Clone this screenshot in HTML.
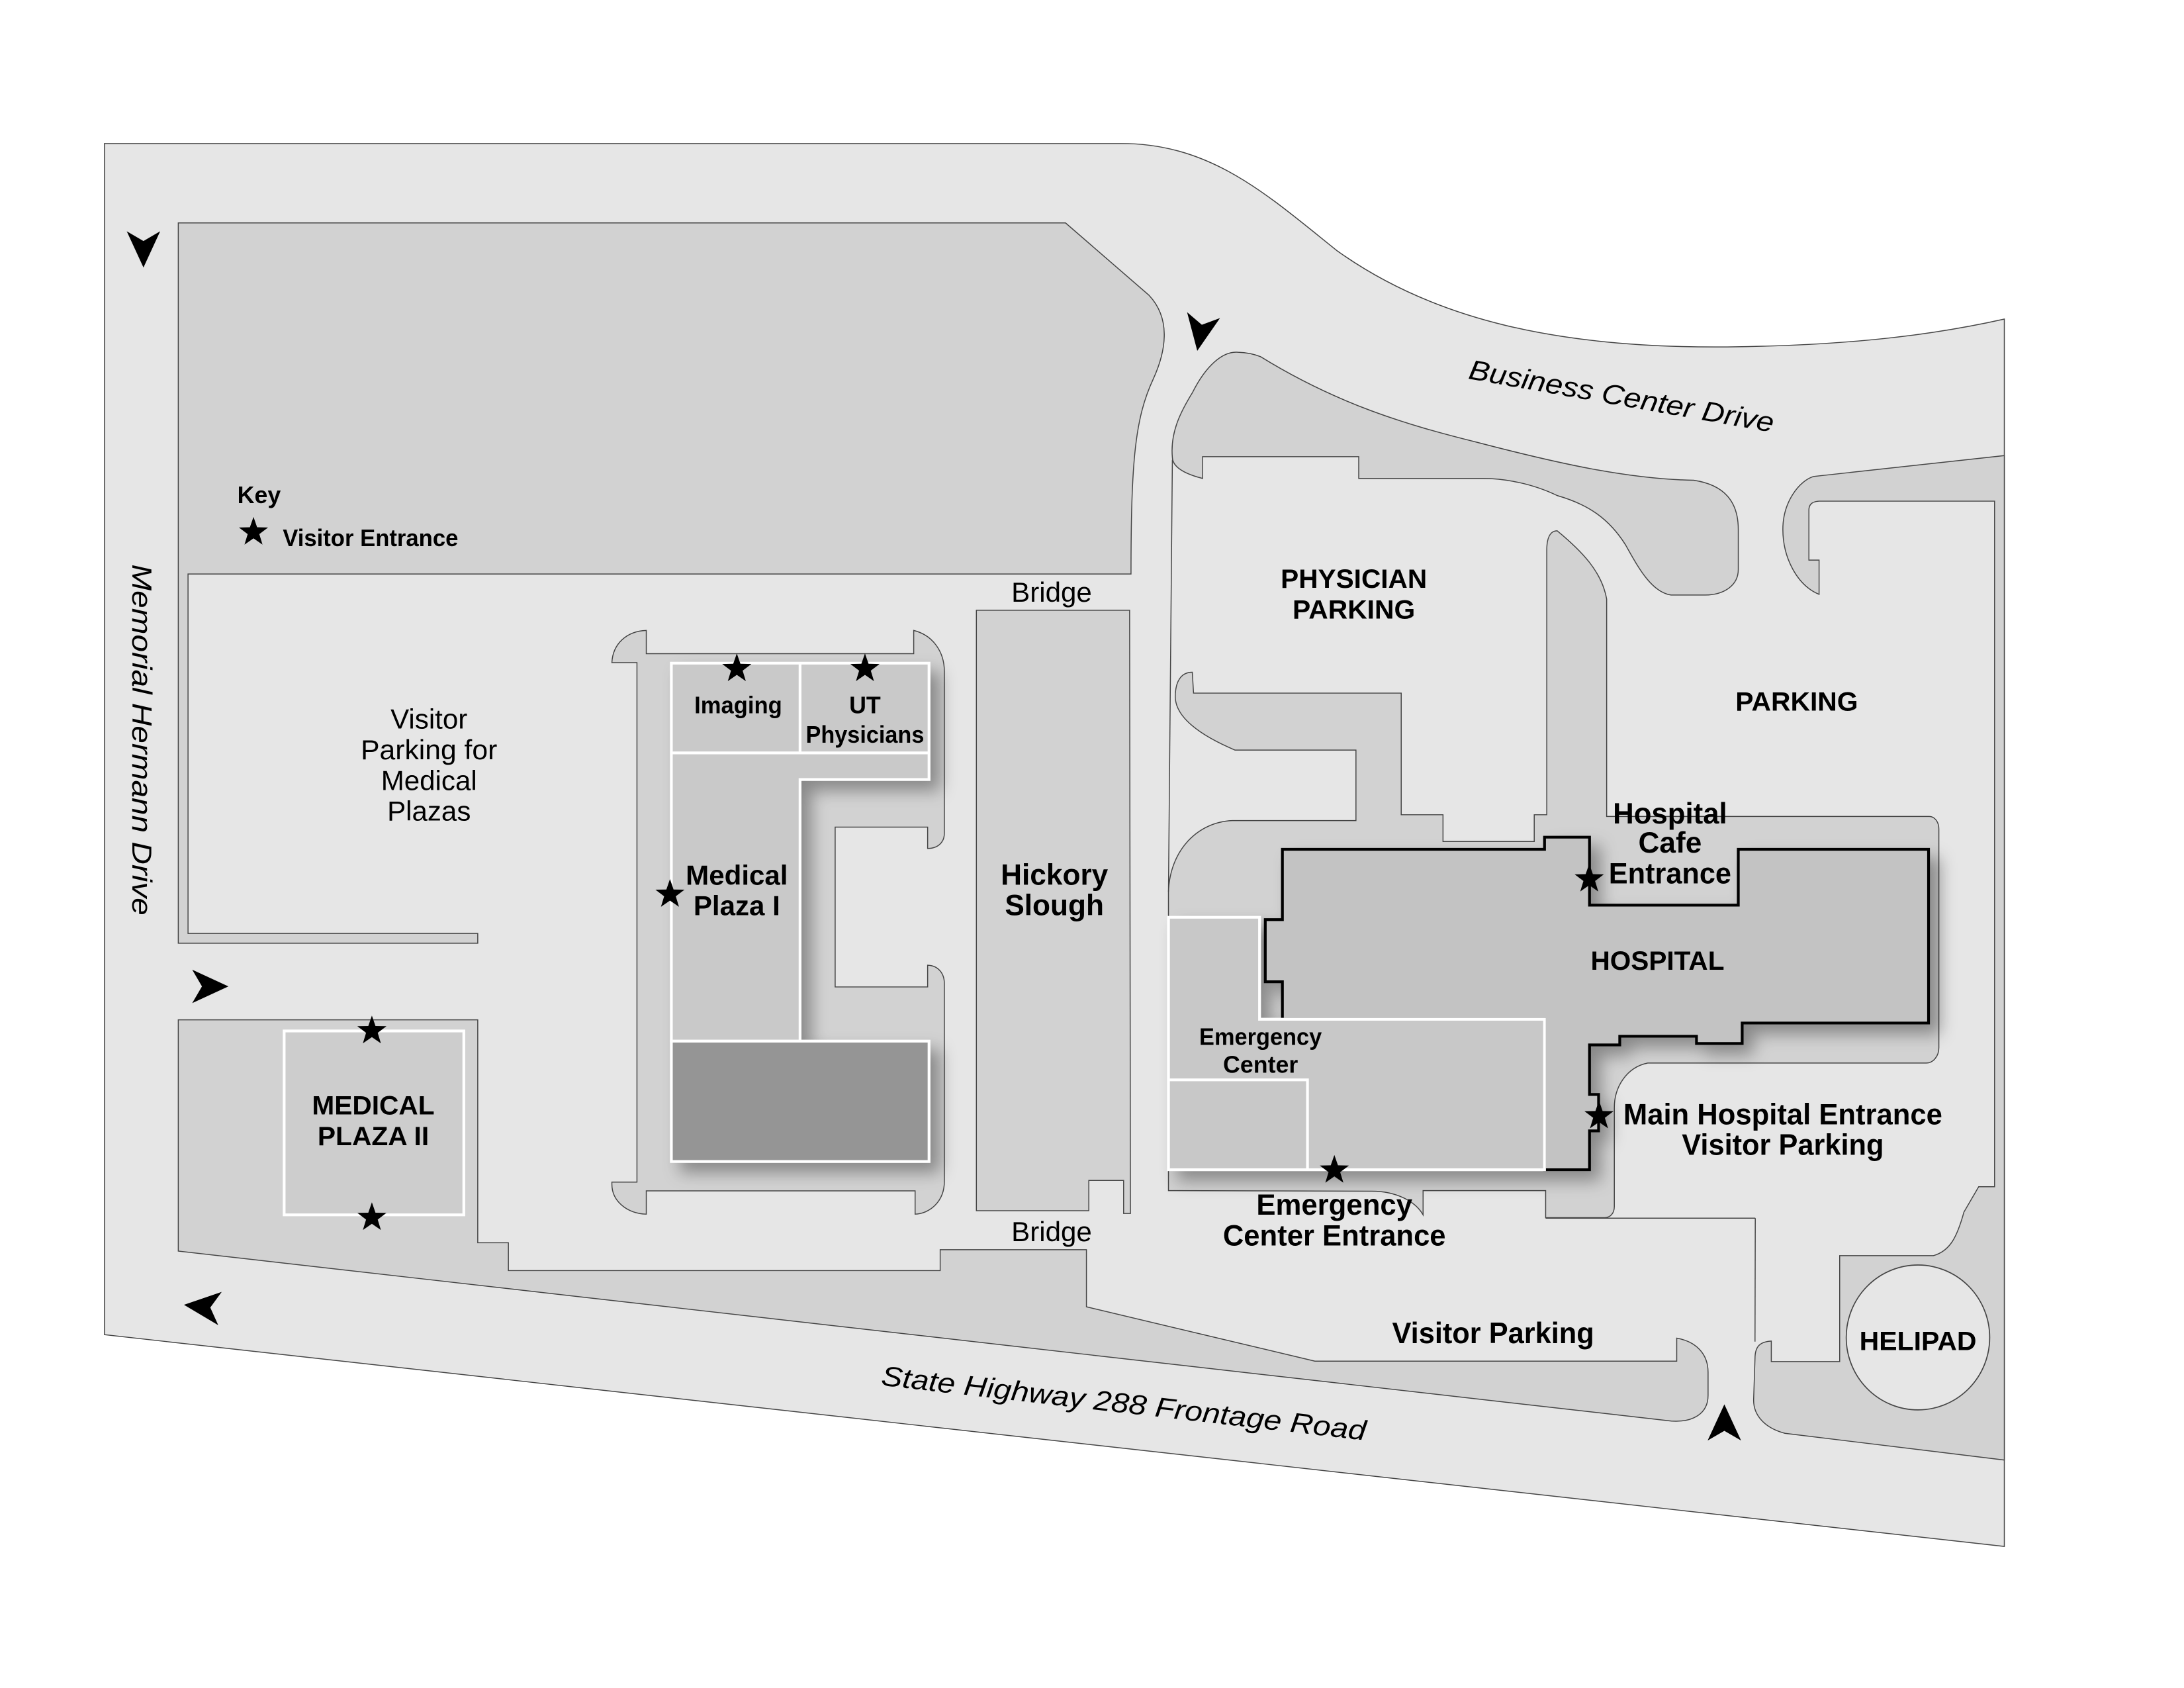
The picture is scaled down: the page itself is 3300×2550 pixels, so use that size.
<!DOCTYPE html>
<html><head><meta charset="utf-8"><style>
html,body{margin:0;padding:0;background:#fff;}
svg{display:block;}
text{font-family:"Liberation Sans",sans-serif;fill:#000;}
.b{font-weight:bold;}
</style></head><body>
<svg width="3300" height="2550" viewBox="0 0 1568 1211.6" xmlns="http://www.w3.org/2000/svg">
<defs>
<polygon id="st" points="0,-11 2.586,-3.56 10.46,-3.4 4.18,1.36 6.47,8.9 0,4.4 -6.47,8.9 -4.18,1.36 -10.46,-3.4 -2.586,-3.56" fill="#000"/>
<path id="ar" d="M14,0 L-12,-12 L-5,0 L-12,12 Z" fill="#000"/>
<filter id="sh" x="-10%" y="-10%" width="130%" height="130%"><feDropShadow dx="7" dy="7" stdDeviation="6" flood-color="#000" flood-opacity="0.35"/></filter>
</defs>
<rect width="1568" height="1212" fill="#fff"/>
<!-- outer roads -->
<path d="M75,103 L805,103 C870,103 910,140 960,180 C1030,230 1120,250 1240,249 C1330,248 1390,240 1439,229 L1439,1110 L75,958 Z" fill="#e6e6e6" stroke="#444" stroke-width="0.7"/>
<!-- top-left lot -->
<path d="M128,160 L765,160 L825,212 C840,228 838,250 828,272 C815,300 812,330 812,412 L135,412 L135,670 L343,670 L343,677 L128,677 Z" fill="#d2d2d2" stroke="#444" stroke-width="0.7"/>
<!-- bottom band -->
<path d="M128,732 L343,732 L343,892 L365,892 L365,912 L675,912 L675,897 L780,897 L780,938 L944,977 L1203.8,977 L1203.8,960.5 C1218,963 1226.3,972 1226.3,985 L1226.3,1001.6 C1226.3,1015 1215,1021 1200,1020 L128,898 Z" fill="#d2d2d2" stroke="#444" stroke-width="0.7"/>
<!-- MP1 lot -->
<path d="M464,452.5 L464,469.2 L656,469.2 L656,452.5 C670,456 678,468 678,482 L678,598 C678,605 673,609 666,609 L666,593.7 L599.6,593.7 L599.6,708.4 L666,708.4 L666,692.8 C673,693 678,698 678,706 L678,848 C678,862 668,871 657,871.5 L657,854.8 L464,854.8 L464,871.5 C450,871 439.3,862 439.3,850 L439.3,848.5 L457.3,848.5 L457.3,475.6 L439.3,475.6 C440,462 450,453 464,452.5 Z" fill="#d2d2d2" stroke="#444" stroke-width="0.7"/>
<!-- Hickory -->
<path d="M701,438 L811,438 L811.6,871 L806.7,871 L806.7,847.3 L781.7,847.3 L781.7,869 L701,869 Z" fill="#d2d2d2" stroke="#444" stroke-width="0.7"/>
<!-- right island top -->
<path d="M841.7,328.4 C840,310 848,295 856,282 C866,262 878,252 888.8,252.8 C895,253 900,254 905,256 C960,290 1010,305 1060.6,317.5 C1120,333 1170,344 1216,344.7 C1238,348 1248,360 1248,380 L1248,408.8 C1248,420 1238,427 1224.2,427.1 L1199.7,427.1 C1185,425 1175,405 1167,391 C1155,372 1140,362 1118,355.7 C1100,347 1080,343.4 1064.7,343.4 L975.5,343.4 L975.5,327.8 L863.4,327.8 L863.4,343.4 C850,340 842,335 841.7,328.4 Z" fill="#d2d2d2" stroke="#444" stroke-width="0.7"/>
<!-- right dark region -->
<path d="M1302,342 L1439,327 L1439,1048 L1281.5,1028.8 C1267,1025 1259,1016 1259,1005 L1260,975 C1260,966 1264,963 1271.7,962.6 L1271.7,977.3 L1320.8,977.3 L1320.8,901.3 L1388,901.3 C1400,898 1405,888 1410,870 L1420.6,851.8 L1432,851.8 L1432,359.7 L1306,359.7 C1300,360 1298.7,363 1298.7,366 L1298.7,402 L1306,402 L1306,426.6 C1290,420 1280,400 1280,380 C1280,360 1292,345 1302,342 Z" fill="#d2d2d2" stroke="#444" stroke-width="0.7"/>
<!-- hospital island -->
<path d="M856,482.5 L856.9,497.5 L1006,497.5 L1006,584.8 L1036,584.8 L1036,604 L1101.5,604 L1101.5,584.8 L1110.5,584.8 L1110.5,395 C1110.5,386 1113,381 1118,381 C1135,395 1150,410 1153.5,430 L1153.5,586 L1385,586 C1389,586 1392,590 1392,595 L1392,752 C1392,758 1388,763 1383,763 L1183,763 C1168,766 1159,780 1159,795 L1159,866 C1159,871 1156,874 1152,874 L1109.7,874 L1109.7,854.6 L1021.7,854.6 L1021.7,872 C1016,862 1002,855 985,855 L838.9,854.6 L838.9,640 C840,610 860,590 884.7,589 L973.5,589 L973.5,538.4 L886.7,538.4 C862,528 843.8,515 843.8,500 C843.8,489 848,482.5 856,482.5 Z" fill="#d2d2d2" stroke="#444" stroke-width="0.7"/>
<line x1="841.7" y1="330" x2="838.9" y2="640" stroke="#444" stroke-width="0.7"/>
<line x1="1260.2" y1="874.4" x2="1260" y2="963" stroke="#444" stroke-width="0.7"/>
<polyline points="1109.7,874.4 1260.2,874.4" fill="none" stroke="#444" stroke-width="0.7"/>
<!-- helipad -->
<ellipse cx="1377" cy="960" rx="51.5" ry="52" fill="#e6e6e6" stroke="#444" stroke-width="0.8"/>
<!-- Medical Plaza II -->
<rect x="204" y="740" width="129" height="132" fill="#cdcdcd" stroke="#fff" stroke-width="2"/>
<!-- MP1 buildings -->
<g filter="url(#sh)">
<path d="M482,476 L667,476 L667,559.5 L574.4,559.5 L574.4,747.3 L482,747.3 Z" fill="#c9c9c9" stroke="#fff" stroke-width="2"/>
<rect x="482" y="747.3" width="185" height="86.4" fill="#959595" stroke="#fff" stroke-width="2"/>
</g>
<polyline points="482,540.4 667,540.4" stroke="#fff" stroke-width="2"/>
<line x1="574.4" y1="476" x2="574.4" y2="540.4" stroke="#fff" stroke-width="2"/>
<!-- Hospital -->
<g filter="url(#sh)">
<path d="M920.7,609.6 L1108.9,609.6 L1108.9,600.9 L1141.2,600.9 L1141.2,649.7 L1248,649.7 L1248,609.6 L1384.6,609.6 L1384.6,734.3 L1250.8,734.3 L1250.8,749 L1218,749 L1218,743.8 L1162.9,743.8 L1162.9,750 L1141.2,750 L1141.2,785.6 L1147.7,785.6 L1147.7,811.7 L1141.2,811.7 L1141.2,839.6 L1108.9,839.6 L1108.9,731.6 L920.7,731.6 L920.7,704.7 L908.4,704.7 L908.4,660.1 L920.7,660.1 Z" fill="#c3c3c3" stroke="#000" stroke-width="2"/>
<path d="M838.9,658.4 L904.3,658.4 L904.3,731.6 L1108.9,731.6 L1108.9,839.6 L838.9,839.6 Z" fill="#c8c8c8" stroke="#fff" stroke-width="2"/>
</g>
<polyline points="838.9,775.1 938.7,775.1 938.7,839.6" fill="none" stroke="#fff" stroke-width="2"/>
<!-- arrows -->
<use href="#ar" transform="translate(103,178) rotate(90)"/>
<use href="#ar" transform="translate(862,238) rotate(100)"/>
<use href="#ar" transform="translate(150,708)"/>
<use href="#ar" transform="translate(146,938) rotate(186)"/>
<use href="#ar" transform="translate(1238,1022) rotate(-90)"/>
<!-- stars -->
<use href="#st" x="182" y="382"/>
<use href="#st" x="529" y="480"/>
<use href="#st" x="621" y="480"/>
<use href="#st" x="481" y="642"/>
<use href="#st" x="267" y="740"/>
<use href="#st" x="267" y="874"/>
<use href="#st" x="1141" y="631"/>
<use href="#st" x="1148" y="801"/>
<use href="#st" x="958" y="840"/>
<!-- text -->
<g text-anchor="middle">
<text x="186" y="361" class="b" font-size="17">Key</text>
<text x="266" y="392" class="b" font-size="17" textLength="126" lengthAdjust="spacingAndGlyphs">Visitor Entrance</text>
<text x="308" y="523" font-size="20">Visitor</text>
<text x="308" y="545" font-size="20" textLength="98" lengthAdjust="spacingAndGlyphs">Parking for</text>
<text x="308" y="567" font-size="20">Medical</text>
<text x="308" y="589" font-size="20">Plazas</text>
<text transform="translate(95,531) rotate(90)" font-size="20" font-style="italic" textLength="252" lengthAdjust="spacingAndGlyphs">Memorial Hermann Drive</text>
<text transform="translate(1163,291) rotate(10)" font-size="20" font-style="italic" textLength="222" lengthAdjust="spacingAndGlyphs">Business Center Drive</text>
<text transform="translate(806,1014) rotate(6.5)" font-size="20" font-style="italic" textLength="350" lengthAdjust="spacingAndGlyphs">State Highway 288 Frontage Road</text>
<text x="755" y="432" font-size="20">Bridge</text>
<text x="755" y="891" font-size="20">Bridge</text>
<text x="530" y="512" class="b" font-size="17" textLength="63" lengthAdjust="spacingAndGlyphs">Imaging</text>
<text x="621" y="512" class="b" font-size="17">UT</text>
<text x="621" y="533" class="b" font-size="17" textLength="85" lengthAdjust="spacingAndGlyphs">Physicians</text>
<text x="529" y="635" class="b" font-size="20">Medical</text>
<text x="529" y="657" class="b" font-size="20">Plaza I</text>
<text x="757" y="635" class="b" font-size="21">Hickory</text>
<text x="757" y="657" class="b" font-size="21">Slough</text>
<text x="268" y="800" class="b" font-size="19" textLength="88" lengthAdjust="spacingAndGlyphs">MEDICAL</text>
<text x="268" y="822" class="b" font-size="19" textLength="80" lengthAdjust="spacingAndGlyphs">PLAZA II</text>
<text x="972" y="422" class="b" font-size="19" textLength="105" lengthAdjust="spacingAndGlyphs">PHYSICIAN</text>
<text x="972" y="444" class="b" font-size="19" textLength="88" lengthAdjust="spacingAndGlyphs">PARKING</text>
<text x="1290" y="510" class="b" font-size="19" textLength="88" lengthAdjust="spacingAndGlyphs">PARKING</text>
<text x="1199" y="591" class="b" font-size="21" textLength="82" lengthAdjust="spacingAndGlyphs">Hospital</text>
<text x="1199" y="612" class="b" font-size="21">Cafe</text>
<text x="1199" y="634" class="b" font-size="21" textLength="88" lengthAdjust="spacingAndGlyphs">Entrance</text>
<text x="1190" y="696" class="b" font-size="19" textLength="96" lengthAdjust="spacingAndGlyphs">HOSPITAL</text>
<text x="905" y="750" class="b" font-size="17" textLength="88" lengthAdjust="spacingAndGlyphs">Emergency</text>
<text x="905" y="770" class="b" font-size="17">Center</text>
<text x="1280" y="807" class="b" font-size="21" textLength="229" lengthAdjust="spacingAndGlyphs">Main Hospital Entrance</text>
<text x="1280" y="829" class="b" font-size="21" textLength="145" lengthAdjust="spacingAndGlyphs">Visitor Parking</text>
<text x="958" y="872" class="b" font-size="21" textLength="112" lengthAdjust="spacingAndGlyphs">Emergency</text>
<text x="958" y="894" class="b" font-size="21" textLength="160" lengthAdjust="spacingAndGlyphs">Center Entrance</text>
<text x="1072" y="964" class="b" font-size="21" textLength="145" lengthAdjust="spacingAndGlyphs">Visitor Parking</text>
<text x="1377" y="969" class="b" font-size="19" textLength="84" lengthAdjust="spacingAndGlyphs">HELIPAD</text>
</g>
</svg>
</body></html>
